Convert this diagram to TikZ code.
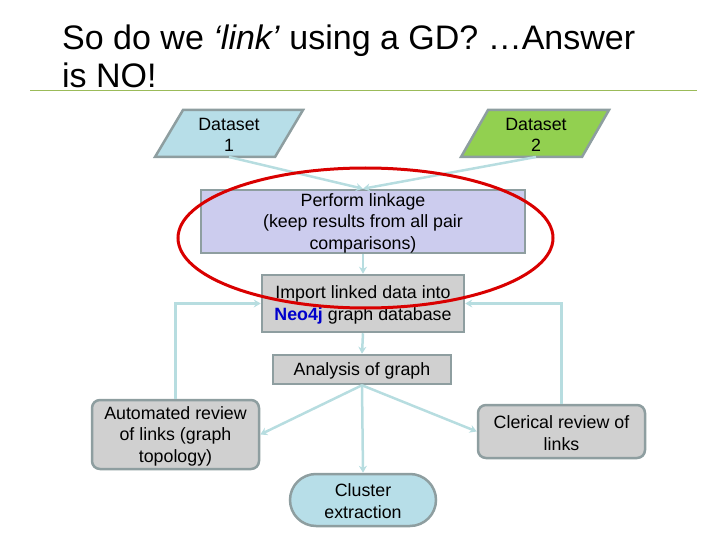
\documentclass[tikz,border=0pt]{standalone}
\usepackage{fontspec}
\setmainfont{Liberation Sans}
\usetikzlibrary{arrows.meta,shapes.misc}
\definecolor{conn}{HTML}{B7DDE0}
\definecolor{bord}{HTML}{8E9EA0}
\definecolor{lblue}{HTML}{B7DEE8}
\definecolor{lgreen}{HTML}{92D050}
\definecolor{lav}{HTML}{CCCCEE}
\definecolor{lgray}{HTML}{D0D0D0}
\definecolor{olive}{HTML}{9BBB59}
\definecolor{neo}{HTML}{0000CC}
\begin{document}
\begin{tikzpicture}[x=1pt,y=-1pt,
  txt/.style={font=\fontsize{17.8}{21.5}\selectfont,align=center,inner sep=0pt},
  box/.style={draw=bord,line width=2.5pt,txt},
  conn/.style={draw=conn,line width=2.5pt,-{Stealth[length=7pt,width=8pt]}},
  plain/.style={draw=conn,line width=2.5pt}]
\useasboundingbox (0,0) rectangle (720,540);
% title
\node[anchor=base west,inner sep=0pt,font=\fontsize{34}{38}\selectfont,align=left] (title) at (62,50) {So do we \textit{‘link’} using a GD? …Answer};
\node[anchor=base west,inner sep=0pt,font=\fontsize{34}{38}\selectfont] (title2) at (62,88) {is NO!};
\draw[olive,line width=1pt] (30,90.5) -- (697,90.5);
% datasets
\filldraw[fill=lblue,draw=bord,line width=2.5pt] (183,110) -- (303,110) -- (275,157) -- (155,157) -- cycle;
\filldraw[fill=lgreen,draw=bord,line width=2.5pt] (488,110) -- (609,110) -- (582,157) -- (461,157) -- cycle;
\node[txt] (d1) at (229,135) {Dataset\\1};
\node[txt] (d2) at (536,135) {Dataset\\2};
\coordinate (d1b) at (229,157);
\coordinate (d2b) at (536,157);
% boxes
\node[box,fill=lav,minimum width=324pt,minimum height=63pt] (link) at (363,221.5) {};
\node[txt] (linkt) at (363,223) {Perform linkage\\(keep results from all pair\\comparisons)};
\node[box,fill=lgray,minimum width=202pt,minimum height=57pt] (imp) at (363,303.5) {};
\node[txt] (impt) at (363,305) {Import linked data into\\\textcolor{neo}{\textbf{Neo4j}} graph database};
\node[box,fill=lgray,minimum width=178pt,minimum height=29pt] (ana) at (362,369.5) {};
\node[txt] (anat) at (362,370.5) {Analysis of graph};
\node[box,fill=lgray,rounded corners=8pt,minimum width=167pt,minimum height=69pt] (auto) at (175.5,434.5) {};
\node[txt] (autot) at (175.5,436) {Automated review\\of links (graph\\topology)};
\node[box,fill=lgray,rounded corners=8pt,minimum width=167pt,minimum height=53pt] (cler) at (561.5,431.5) {};
\node[txt] (clert) at (561.5,433) {Clerical review of\\links};
\node[box,fill=lblue,rounded rectangle,minimum width=146pt,minimum height=52pt] (clus) at (363,500) {};
\node[txt] (clust) at (363,501) {Cluster\\extraction};
% connectors
\draw[conn] (d1b) -- (link.north);
\draw[conn] (d2b) -- (link.north);
\draw[conn] (link.south) -- (imp.north);
\draw[conn] (imp.south) -- (ana.north);
\draw[conn] (ana.south) -- (auto.east);
\draw[conn] (ana.south) -- (clus.north);
\draw[conn] (ana.south) -- (cler.west);
\draw[conn] (auto.north) |- (imp.west);
\draw[conn] (cler.north) |- (imp.east);
% red ellipse
\draw[red!85!black,line width=3pt] (365.5,238) ellipse (187.5pt and 70pt);
\end{tikzpicture}
\end{document}
